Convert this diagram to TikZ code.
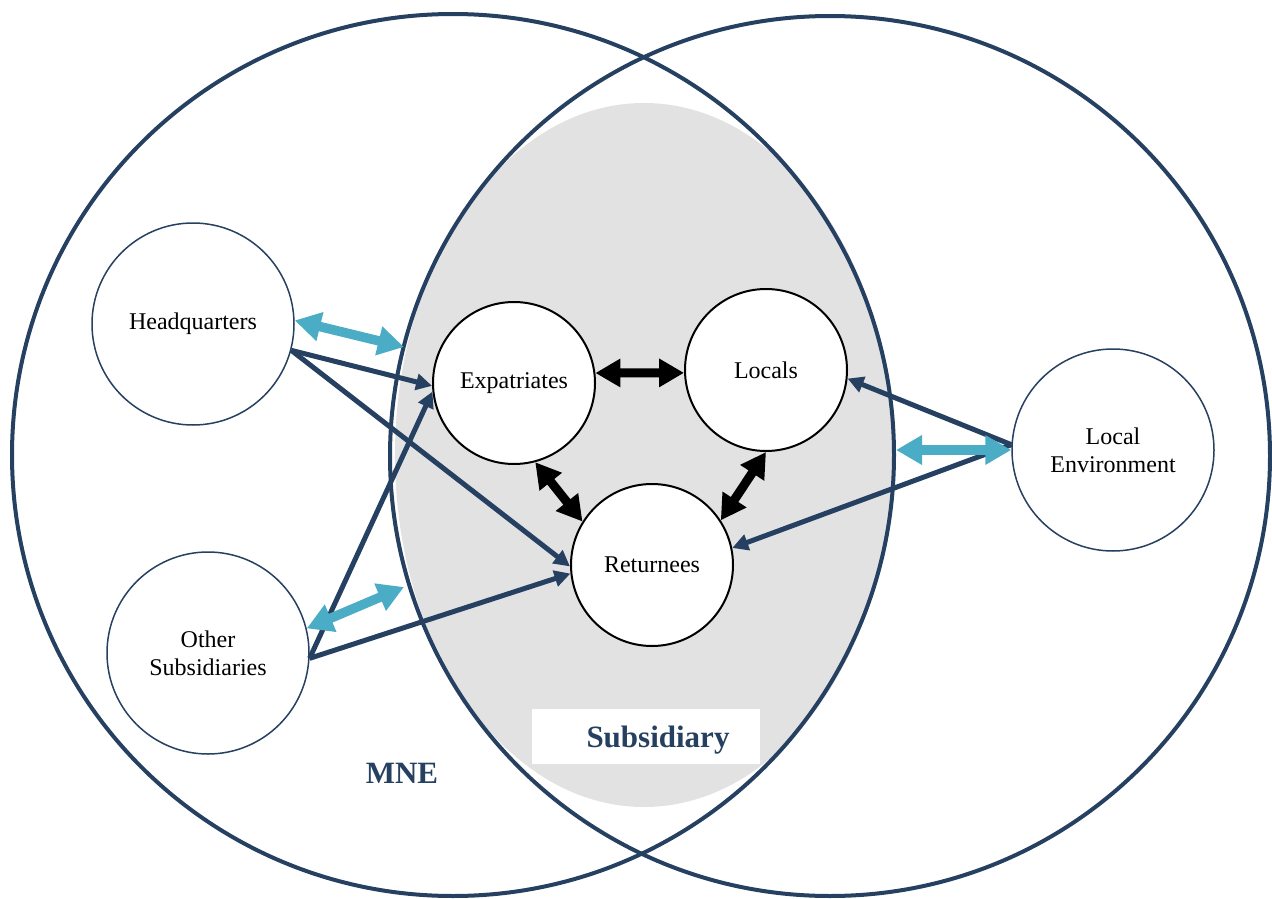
\documentclass[tikz,border=0pt]{standalone}
\usepackage{fontspec}
\setmainfont{Liberation Serif}
\usetikzlibrary{arrows.meta}
\definecolor{navy}{RGB}{38,64,97}
\definecolor{teal2}{RGB}{75,172,198}
\definecolor{greyfill}{RGB}{226,226,226}
\begin{document}
\begin{tikzpicture}[x=1pt,y=-1pt,
 outer/.style={draw=navy,line width=4pt},
 ext/.style={circle,draw=navy,line width=1.5pt,fill=white,minimum size=202pt,inner sep=0pt,align=center,font=\fontsize{24}{28}\selectfont},
 core/.style={circle,draw=black,line width=2pt,fill=white,minimum size=162pt,inner sep=0pt,align=center,font=\fontsize{24}{28}\selectfont},
 flow/.style={draw=navy,line width=5pt,-{Triangle[length=16pt,width=16pt]}},
 link/.style={draw=teal2,line width=9.5pt,{Triangle[length=26pt,width=28pt]}-{Triangle[length=26pt,width=28pt]}},
 tie/.style={draw=black,line width=9pt,{Triangle[length=25pt,width=27pt]}-{Triangle[length=25pt,width=27pt]}},
 lbl/.style={text=navy,font=\bfseries\fontsize{31}{36}\selectfont,inner sep=0pt}
]
\useasboundingbox (0,0) rectangle (1272,899);
% gray subsidiary ellipse
\fill[greyfill] (644,455) ellipse [x radius=249, y radius=352];
% big circles
\draw[outer] (453,455) circle [radius=441];
\draw[outer] (830,456) circle [radius=440];
% subsidiary label box
\node[fill=white,minimum width=228pt,minimum height=55pt,inner sep=0pt] (subbox) at (646,736) {};
\node[lbl] (sublabel) at (658,740) {Subsidiary};
\node[lbl] (mnelabel) at (402,773) {MNE};
% outer nodes
\node[ext] (hq) at (193,324) {Headquarters};
\node[ext] (os) at (208,653) {Other\\Subsidiaries};
\node[ext] (le) at (1113,450) {Local\\Environment};
% core nodes
\node[core] (ex) at (514,383) {Expatriates};
\node[core] (lo) at (766,370) {Locals};
\node[core] (re) at (652,565) {Returnees};
% free ends of teal arrows
\coordinate (hqend) at (404,347);
\coordinate (osend) at (404,587);
\coordinate (leend) at (896,450);
% navy flows
\draw[flow] (hq.-15) -- (ex.182);
\draw[flow] (hq.-15) -- (re.181);
\draw[flow] (os.-3) -- (ex.186);
\draw[flow] (os.-3) -- (re.186);
\draw[flow] (le.177) -- (lo.-6);
\draw[flow] (le.177) -- (re.12);
% teal links
\draw[link] (hq.2) -- (hqend);
\draw[link] (os.14) -- (osend);
\draw[link] (le.180) -- (leend);
% black ties
\draw[tie] (ex.7) -- (lo.182);
\draw[tie] (ex.-75) -- (re.148);
\draw[tie] (lo.-90) -- (re.33);
\end{tikzpicture}
\end{document}
